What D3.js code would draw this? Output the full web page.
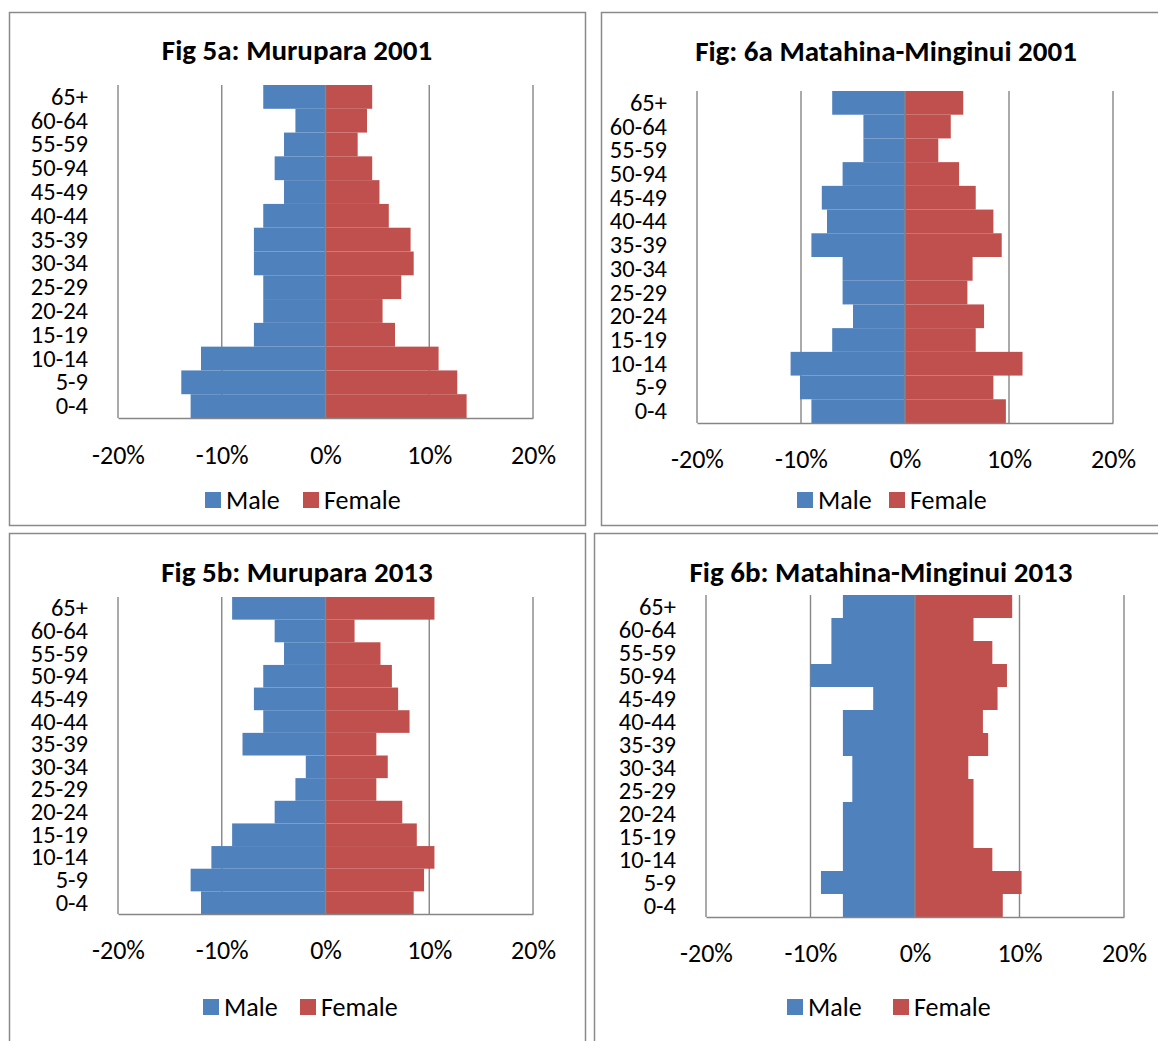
<!DOCTYPE html>
<html>
<head>
<meta charset="utf-8">
<script src="https://cdn.jsdelivr.net/npm/d3@7"></script>
<style>
  html, body { margin: 0; padding: 0; background: #fff; }
  svg { display: block; font-family: Carlito, Calibri, Lato, sans-serif; }
</style>
</head>
<body>
<svg id="chart" width="1158" height="1041"></svg>
<script>
// ---- Data ----
const ageGroups = ["0-4","5-9","10-14","15-19","20-24","25-29","30-34","35-39","40-44","45-49","50-94","55-59","60-64","65+"];
const tickValues = [-20, -10, 0, 10, 20];
const tickLabels = ["-20%", "-10%", "0%", "10%", "20%"];
const seriesNames = ["Male", "Female"];
const titles = ["Fig 5a: Murupara 2001", "Fig: 6a Matahina-Minginui 2001", "Fig 5b: Murupara 2013", "Fig 6b: Matahina-Minginui 2013"];

const murupara2001Male   = [13.0, 13.9, 12.0, 6.9, 6.0, 6.0, 6.9, 6.9, 6.0, 4.0, 4.9, 4.0, 2.9, 6.0];
const murupara2001Female = [13.6, 12.7, 10.9, 6.7, 5.5, 7.3, 8.5, 8.2, 6.1, 5.2, 4.5, 3.1, 4.0, 4.5];
const matahina2001Male   = [9.0, 10.1, 11.0, 7.0, 5.0, 6.0, 6.0, 9.0, 7.5, 8.0, 6.0, 4.0, 4.0, 7.0];
const matahina2001Female = [9.7, 8.5, 11.3, 6.8, 7.6, 6.0, 6.5, 9.3, 8.5, 6.8, 5.2, 3.2, 4.4, 5.6];
const murupara2013Male   = [12.0, 13.0, 11.0, 9.0, 4.9, 2.9, 1.9, 8.0, 6.0, 6.9, 6.0, 4.0, 4.9, 9.0];
const murupara2013Female = [8.5, 9.5, 10.5, 8.8, 7.4, 4.9, 6.0, 4.9, 8.1, 7.0, 6.4, 5.3, 2.8, 10.5];
const matahina2013Male   = [6.9, 9.0, 6.9, 6.9, 6.9, 6.0, 6.0, 6.9, 6.9, 4.0, 10.0, 8.0, 8.0, 6.9];
const matahina2013Female = [8.4, 10.2, 7.4, 5.6, 5.6, 5.6, 5.1, 7.0, 6.5, 7.9, 8.8, 7.4, 5.6, 9.3];

const maleData = [murupara2001Male, matahina2001Male, murupara2013Male, matahina2013Male];
const femaleData = [murupara2001Female, matahina2001Female, murupara2013Female, matahina2013Female];

// ---- Layout ----
const FONT = "Carlito, Calibri, Lato, sans-serif";
const colors = { male: "#4F81BD", female: "#C0504D", grid: "#868686", border: "#8a8a8a" };
const panels = [
  { box: [9, 12, 585, 525],  plot: [118, 85, 533, 418],  titleX: 297, titleY: 50,  tickY: 455, legendY: 500, legendXs: [205, 303] },
  { box: [601, 12, 1162, 525], plot: [697, 91, 1113, 423], titleX: 886, titleY: 51, tickY: 459, legendY: 500, legendXs: [797, 889] },
  { box: [9, 533, 585, 1045], plot: [118, 597, 533, 914], titleX: 297, titleY: 572, tickY: 950, legendY: 1007, legendXs: [203, 300] },
  { box: [594, 533, 1162, 1045], plot: [706, 595, 1124, 917], titleX: 881, titleY: 572, tickY: 953, legendY: 1007, legendXs: [787, 893] }
];

const svg = d3.select("#chart");

panels.forEach((p, i) => {
  const g = svg.append("g");
  const [bx0, by0, bx1, by1] = p.box;
  g.append("rect").attr("x", bx0 + 0.5).attr("y", by0 + 0.5)
    .attr("width", bx1 - bx0).attr("height", by1 - by0)
    .attr("fill", "#fff").attr("stroke", colors.border).attr("stroke-width", 1.5);

  const [px0, py0, px1, py1] = p.plot;
  const x = d3.scaleLinear().domain([-20, 20]).range([px0, px1]);
  const y = d3.scaleBand().domain(ageGroups.slice().reverse()).range([py0, py1]).padding(0);

  // gridlines
  g.append("g").selectAll("line").data(tickValues).join("line")
    .attr("x1", d => x(d)).attr("x2", d => x(d))
    .attr("y1", py0).attr("y2", py1)
    .attr("stroke", colors.grid).attr("stroke-width", 1.4);

  // bars
  const male = maleData[i], female = femaleData[i];
  g.append("g").selectAll("rect").data(ageGroups).join("rect")
    .attr("x", (d, k) => x(-male[k])).attr("y", d => y(d))
    .attr("width", (d, k) => x(0) - x(-male[k])).attr("height", y.bandwidth())
    .attr("fill", colors.male);
  g.append("g").selectAll("rect").data(ageGroups).join("rect")
    .attr("x", x(0)).attr("y", d => y(d))
    .attr("width", (d, k) => x(female[k]) - x(0)).attr("height", y.bandwidth())
    .attr("fill", colors.female);

  // vertical category axis at 0
  g.append("line").attr("x1", x(0)).attr("x2", x(0)).attr("y1", py0).attr("y2", py1)
    .attr("stroke", colors.grid).attr("stroke-width", 1.4);

  // bottom axis
  const xAxis = d3.axisBottom(x).tickValues(tickValues).tickSize(0)
    .tickFormat((d, k) => tickLabels[k]);
  const ax = g.append("g").attr("transform", `translate(0,${py1})`).call(xAxis);
  ax.select(".domain").attr("stroke", colors.grid).attr("stroke-width", 1.6);
  ax.selectAll("text").attr("font-size", 26).attr("fill", "#000")
    .attr("font-family", FONT)
    .attr("dy", null).attr("y", p.tickY - py1).attr("dominant-baseline", "central");

  // left category labels
  const yAxis = d3.axisLeft(y).tickSize(0).tickPadding(0);
  const ay = g.append("g").attr("transform", `translate(${px0 - 30},0)`).call(yAxis);
  ay.select(".domain").remove();
  ay.selectAll("text").attr("font-size", 24.5).attr("fill", "#000")
    .attr("font-family", FONT)
    .attr("dy", null).attr("dominant-baseline", "central");

  // title
  g.append("text").attr("x", p.titleX).attr("y", p.titleY)
    .attr("text-anchor", "middle").attr("dominant-baseline", "central")
    .attr("font-size", 29).attr("font-weight", "bold").text(titles[i]);

  // legend
  const lg = g.append("g").attr("transform", `translate(0,${p.legendY})`);
  seriesNames.forEach((name, k) => {
    const sx = p.legendXs[k];
    lg.append("rect").attr("x", sx).attr("y", -8).attr("width", 16).attr("height", 16)
      .attr("fill", k === 0 ? colors.male : colors.female);
    lg.append("text").attr("x", sx + 21).attr("y", 0)
      .attr("dominant-baseline", "central").attr("font-size", 26).text(name);
  });
});
</script>
</body>
</html>
